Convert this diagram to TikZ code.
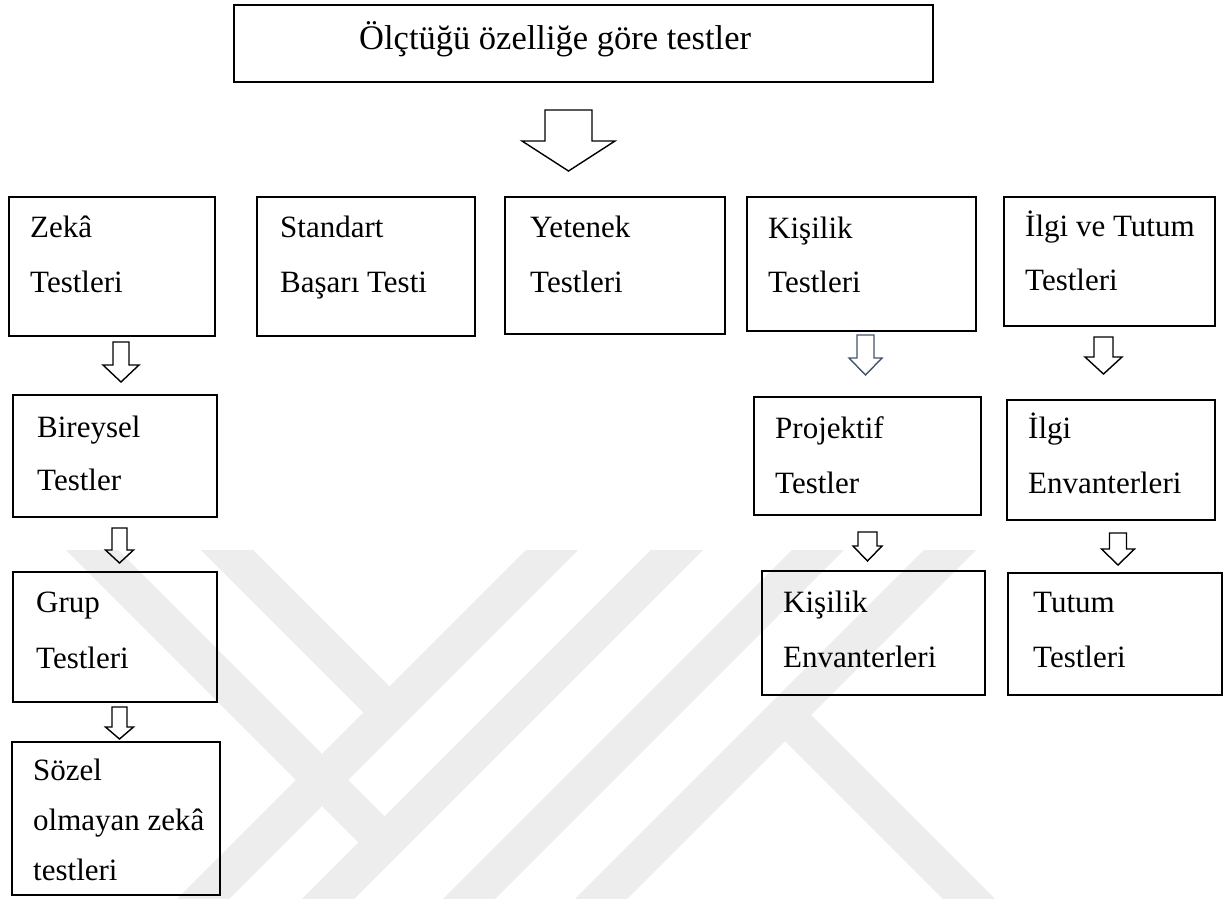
\documentclass[tikz,border=0pt]{standalone}
\usepackage{fontspec}
\setmainfont{Liberation Serif}
\usetikzlibrary{calc}
\definecolor{wmgray}{RGB}{237,237,237}
\definecolor{slate}{RGB}{68,84,106}
\newcommand\blockdown[9]{%
  \draw[#9] let \p1=(#1.south), \p2=(#2.north) in
   ({(#3-#6)*1pt},{\y1-#4pt}) -- ({(#3+#6)*1pt},{\y1-#4pt})
   -- ({(#3+#6)*1pt},{\y2+#5pt+#8pt}) -- ({(#3+#7)*1pt},{\y2+#5pt+#8pt})
   -- ({#3*1pt},{\y2+#5pt}) -- ({(#3-#7)*1pt},{\y2+#5pt+#8pt})
   -- ({(#3-#6)*1pt},{\y2+#5pt+#8pt}) -- cycle;}
\begin{document}
\begin{tikzpicture}[x=1pt,y=-1pt,
  box/.style={draw=black,line width=2.2pt,anchor=north west,inner sep=0pt,outer sep=0pt},
  txt/.style={anchor=base west,inner sep=0pt,font=\fontsize{31}{31}\selectfont},
  ttl/.style={anchor=base west,inner sep=0pt,font=\fontsize{34.5}{34.5}\selectfont},
  blk/.style={draw=black,line width=1.4pt,line join=miter},
  blkblue/.style={blk,draw=slate},
  wm/.style={line width=37pt,draw=wmgray},
]
\useasboundingbox (0,0) rectangle (1224,898);
% watermark
\begin{scope}
\clip (0,550) rectangle (1224,898);
\draw[wm] (62,520) -- (384.5,842.5);
\draw[wm] (197,520) -- (389.5,712.5);
\draw[wm] (582,520) -- (172,930);
\draw[wm] (707,520) -- (297,930);
\draw[wm] (848,520) -- (438,930);
\draw[wm] (980,520) -- (570,930);
\draw[wm] (785,715) -- (1000,930);
\end{scope}
% boxes
\node[box,minimum width=699pt,minimum height=77pt] (title) at (234,5) {};
\node[box,minimum width=206pt,minimum height=139pt] (zeka) at (9,197) {};
\node[box,minimum width=218pt,minimum height=139pt] (standart) at (257,197) {};
\node[box,minimum width=220pt,minimum height=137pt] (yetenek) at (505,197) {};
\node[box,minimum width=229pt,minimum height=134pt] (kisilik) at (747,197) {};
\node[box,minimum width=211pt,minimum height=129pt] (ilgitutum) at (1004,197) {};
\node[box,minimum width=204pt,minimum height=122pt] (bireysel) at (13,395) {};
\node[box,minimum width=204pt,minimum height=130pt] (grup) at (13,572) {};
\node[box,minimum width=208pt,minimum height=153pt] (sozel) at (12,742) {};
\node[box,minimum width=227pt,minimum height=118pt] (projektif) at (754,397) {};
\node[box,minimum width=208pt,minimum height=120pt] (ilgienv) at (1007,400) {};
\node[box,minimum width=223pt,minimum height=124pt] (kisilikenv) at (762,571) {};
\node[box,minimum width=214pt,minimum height=122pt] (tutum) at (1008,573) {};
% texts
\node[ttl] (t0) at (359,49) {Ölçtüğü özelliğe göre testler};
\node[txt] (t1a) at (30,237) {Zekâ};
\node[txt] (t1b) at (30,292) {Testleri};
\node[txt] (t2a) at (280,237) {Standart};
\node[txt] (t2b) at (280,292) {Başarı Testi};
\node[txt] (t3a) at (530,237) {Yetenek};
\node[txt] (t3b) at (530,292) {Testleri};
\node[txt] (t4a) at (768,238) {Kişilik};
\node[txt] (t4b) at (768,292) {Testleri};
\node[txt] (t5a) at (1025,236) {İlgi ve Tutum};
\node[txt] (t5b) at (1025,290) {Testleri};
\node[txt] (t6a) at (37,437) {Bireysel};
\node[txt] (t6b) at (37,490) {Testler};
\node[txt] (t7a) at (36,612) {Grup};
\node[txt] (t7b) at (36,668) {Testleri};
\node[txt] (t8a) at (33,780) {Sözel};
\node[txt] (t8b) at (33,830) {olmayan zekâ};
\node[txt] (t8c) at (33,880) {testleri};
\node[txt] (t9a) at (775,438) {Projektif};
\node[txt] (t9b) at (775,493) {Testler};
\node[txt] (t10a) at (1028,438) {İlgi};
\node[txt] (t10b) at (1028,493) {Envanterleri};
\node[txt] (t11a) at (783,612) {Kişilik};
\node[txt] (t11b) at (783,667) {Envanterleri};
\node[txt] (t12a) at (1033,612) {Tutum};
\node[txt] (t12b) at (1033,667) {Testleri};
% block arrows
\blockdown{title}{yetenek}{568.5}{28}{26}{23.5}{46.5}{30}{blk}
\blockdown{zeka}{bireysel}{121}{6}{13}{8}{18}{17}{blk}
\blockdown{bireysel}{grup}{119.5}{11}{9}{7.5}{14}{13}{blk}
\blockdown{grup}{sozel}{119.5}{5}{3}{7.5}{14}{12}{blk}
\blockdown{kisilik}{projektif}{865.5}{4}{22}{8.5}{16.5}{17}{blkblue}
\blockdown{ilgitutum}{ilgienv}{1103.5}{11}{26}{9.5}{18.5}{17}{blk}
\blockdown{projektif}{kisilikenv}{867.5}{17}{10}{9.5}{14.5}{15}{blk}
\blockdown{ilgienv}{tutum}{1118}{13}{8}{8.5}{16.5}{16}{blk}
\end{tikzpicture}
\end{document}
